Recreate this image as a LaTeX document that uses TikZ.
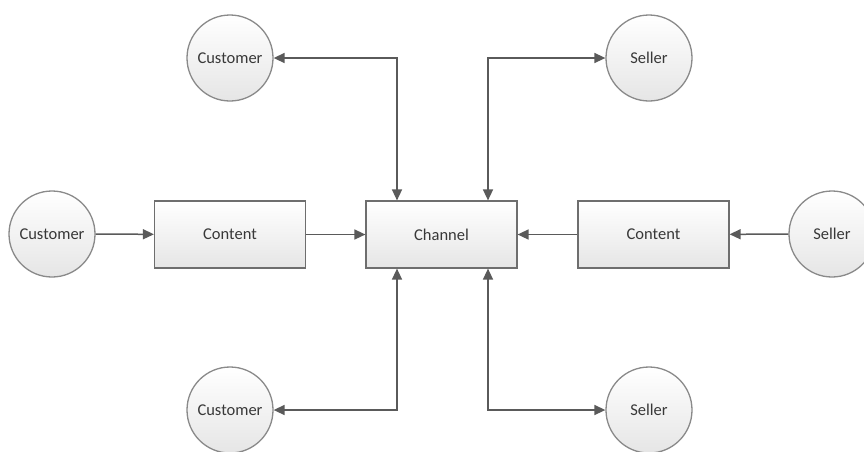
\documentclass[tikz,border=0pt]{standalone}
\usepackage{fontspec}
\setmainfont{Carlito}
\usetikzlibrary{arrows.meta}
\definecolor{linegray}{HTML}{5A5A5A}
\definecolor{boxline}{HTML}{6E6E6E}
\definecolor{ringline}{HTML}{8A8A8A}
\definecolor{txt}{HTML}{383838}
\tikzset{
  party/.style={circle, draw=ringline, line width=1.3pt, minimum size=86pt, inner sep=0pt,
    shading=axis, top color=white, bottom color=black!10, text=txt, font=\fontsize{16.5}{18}\selectfont},
  block/.style={rectangle, draw=boxline, line width=1.2pt, minimum width=151pt, minimum height=67pt,
    inner sep=0pt, shading=axis, top color=white, bottom color=black!10, text=txt, font=\fontsize{16.5}{18}\selectfont},
  link/.style={draw=linegray, line width=1.5pt, -{Triangle[length=11pt,width=10pt]}},
  biLink/.style={draw=linegray, line width=1.5pt, {Triangle[length=11pt,width=10pt]}-{Triangle[length=11pt,width=10pt]}}
}
\begin{document}
\begin{tikzpicture}[x=1pt,y=-1pt]
\useasboundingbox (0,0) rectangle (864,451);
\fill[white] (0,0) rectangle (864,451);

% parties
\node[party] (custTop) at (230,58) {Customer};
\node[party] (custLeft) at (52,234) {Customer};
\node[party] (custBot) at (230,410) {Customer};
\node[party] (sellTop) at (649,58) {Seller};
\node[party] (sellRight) at (832,234) {Seller};
\node[party] (sellBot) at (649,410) {Seller};

% blocks
\node[block] (contL) at (230,234.5) {Content};
\node[block] (chan) at (441.5,234.5) {Channel};
\node[block] (contR) at (653.5,234.5) {Content};

% horizontal flow
\draw[link] (custLeft) -- (contL);
\draw[link] (contL) -- (chan);
\draw[link] (sellRight) -- (contR);
\draw[link] (contR) -- (chan);

% two-way links to the channel
\draw[biLink] (custTop.east) -| ([xshift=-44.5pt]chan.north);
\draw[biLink] (sellTop.west) -| ([xshift=46.5pt]chan.north);
\draw[biLink] (custBot.east) -| ([xshift=-44.5pt]chan.south);
\draw[biLink] (sellBot.west) -| ([xshift=46.5pt]chan.south);
\end{tikzpicture}
\end{document}
